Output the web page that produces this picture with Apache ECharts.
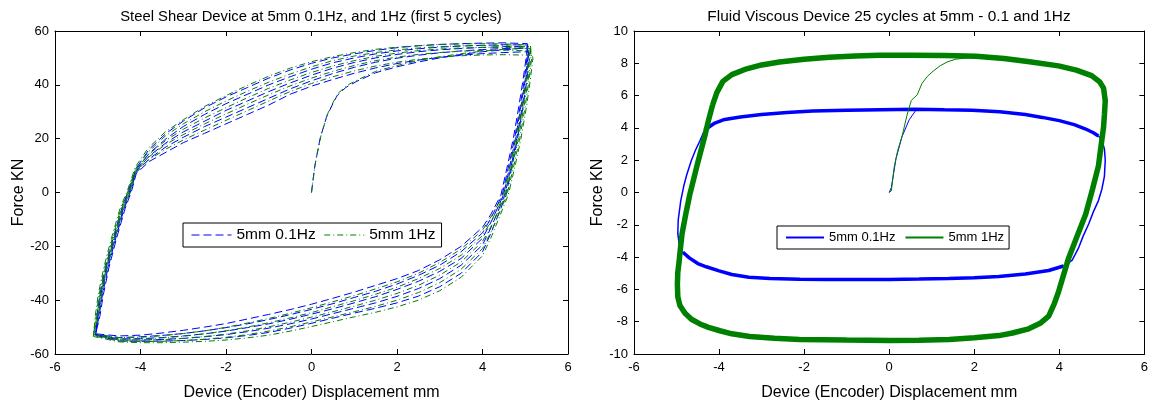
<!DOCTYPE html>
<html>
<head>
<meta charset="utf-8">
<script src="https://cdn.jsdelivr.net/npm/echarts@6/dist/echarts.min.js"></script>
<style>
html,body{margin:0;padding:0;background:#fff;}
#chart{width:1151px;height:406px;}
</style>
</head>
<body>
<div id="chart"></div>
<script>
// ---------------- Texts / ticks ----------------
const leftTitle = 'Steel Shear Device at 5mm 0.1Hz, and 1Hz (first 5 cycles)';
const rightTitle = 'Fluid Viscous Device 25 cycles at 5mm - 0.1 and 1Hz';
const xName = 'Device (Encoder) Displacement mm';
const yName = 'Force KN';
const legendNames = ['5mm 0.1Hz', '5mm 1Hz'];
const xTicks = [-6, -4, -2, 0, 2, 4, 6];
const steelYTicks = [-60, -40, -20, 0, 20, 40, 60];
const fluidYTicks = [-10, -8, -6, -4, -2, 0, 2, 4, 6, 8, 10];

// ---------------- Steel shear device (left) ----------------
const steelSlowInitial = [[0,0],[0.03,4],[0.08,10],[0.2,20],[0.35,28],[0.5,33],[0.6,36],[0.8,39],[1.06,41.3],[1.5,44.5],[2,46.7],[2.5,48.5],[3,50],[3.5,51.3],[4,52.3],[4.5,53],[5.05,53.8]];
const steelFastInitial = [[0,0],[0.04,5],[0.1,12],[0.22,21],[0.37,29],[0.52,34],[0.63,37],[0.85,40],[1.1,42],[1.5,45],[2,47.2],[2.5,49],[3,50.4],[3.5,51.6],[4,52.5],[4.5,53.2],[5.1,53.6]];

const steelTopX = [-4.1,-3.8,-3.4,-3,-2.5,-2,-1.5,-1,-0.5,0,0.5,1,1.5,2,2.5,3,3.5,4,4.5,5.05];
const steelFastTopX = [-4.12,-3.82,-3.42,-3,-2.5,-2,-1.5,-1,-0.5,0,0.5,1,1.5,2,2.5,3,3.5,4,4.5,5.12];
const steelSlowTop = [
  [9,16,22,26.5,31.5,35.5,39,42.5,45.5,48,50,51.5,52.8,53.8,54.5,55,55.3,55.5,55.6,55.3],
  [8.5,14.5,20,24.5,29,33,36.5,40,43,45.8,48.2,50,51.5,52.6,53.4,54,54.4,54.7,54.9,54.8],
  [8,13.5,18.5,22.5,26.5,30.5,34,37.5,40.7,43.6,46.2,48.3,50,51.3,52.3,53,53.5,53.9,54.2,54.3],
  [7.5,12.5,17,20.5,24.5,28,31.5,35,38.5,41.5,44.2,46.5,48.4,49.9,51,51.9,52.6,53.1,53.5,53.7],
  [7,11.5,15,18.5,22,25.5,29,32.5,36.5,39.5,42,44.3,46.3,47.9,49.2,50.2,51,51.6,52,52.3]
];
const steelFastTop = [
  [9.5,16.5,22.5,27,32,36,39.8,43.2,46.2,48.6,50.5,52,53.2,54,54.6,55,55.2,55.3,55.2,54.8],
  [8.8,15,21,25.5,30,34,37.6,41,44,46.7,49,50.7,52,53,53.7,54.2,54.5,54.6,54.5,54.2],
  [8.2,14,19.2,23.5,27.7,31.5,35.2,38.7,41.8,44.6,47,49,50.6,51.8,52.7,53.3,53.7,53.9,53.9,53.6],
  [7.7,13,17.8,21.5,25.5,29.2,32.8,36.3,39.6,42.5,45,47.2,49,50.3,51.3,52,52.5,52.8,52.9,52.6],
  [7.2,12,16,19.5,23.2,26.8,30.4,34,37.5,40.5,43,45.2,47,48.4,49.5,50.3,50.8,51.1,51.2,51]
];
const steelBotX = [4.2,4,3.5,3,2.5,2,1.5,1,0.5,0,-0.5,-1,-1.5,-2,-2.5,-3,-3.5,-4,-4.5,-5.05];
const steelFastBotX = [4.22,4,3.5,3,2.5,2,1.5,1,0.5,0,-0.5,-1,-1.5,-2,-2.5,-3,-3.5,-4,-4.5,-5.1];
const steelSlowBot = [
  [-15,-22,-30,-35,-38.5,-41,-43,-44.8,-46.7,-48.6,-50.4,-52,-53.1,-54,-54.6,-55,-55.2,-55.3,-55.2,-53],
  [-13,-19.5,-27,-32,-35.7,-38.6,-41,-43,-45,-47,-48.8,-50.4,-51.7,-52.8,-53.6,-54.2,-54.6,-54.8,-54.8,-52.9],
  [-11,-17,-24.5,-29.3,-33,-36,-38.7,-41,-43.2,-45.2,-47.1,-48.8,-50.2,-51.5,-52.5,-53.3,-53.9,-54.3,-54.4,-52.8],
  [-9.5,-15,-22,-27,-30.8,-34,-36.7,-39,-41.3,-43.4,-45.4,-47.2,-48.8,-50.2,-51.4,-52.4,-53.1,-53.6,-53.9,-52.7],
  [-8,-13,-20,-25,-29,-32,-34.5,-37,-39.3,-41.5,-43.5,-45.3,-47,-48.7,-50,-51.2,-52.2,-53,-53.3,-52.5]
];
const steelFastBot = [
  [-16,-23.5,-31.5,-36.5,-40,-42.5,-44.5,-46.2,-48,-49.8,-51.5,-53,-54,-54.8,-55.3,-55.6,-55.8,-55.8,-55.5,-53.5],
  [-14,-20.8,-28.5,-33.5,-37.2,-40,-42.3,-44.3,-46.2,-48.1,-49.9,-51.5,-52.8,-53.8,-54.5,-55,-55.3,-55.4,-55.2,-53.3],
  [-12,-18.2,-25.8,-30.7,-34.5,-37.5,-40,-42.2,-44.3,-46.3,-48.2,-49.9,-51.4,-52.6,-53.5,-54.2,-54.7,-54.9,-54.8,-53.1],
  [-10.2,-16,-23.3,-28.2,-32,-35.2,-37.8,-40.2,-42.4,-44.6,-46.6,-48.4,-50,-51.4,-52.5,-53.4,-54,-54.4,-54.4,-52.9],
  [-8.5,-14,-21,-26,-30,-33.2,-35.8,-38.3,-40.6,-42.8,-44.9,-46.8,-48.5,-50.1,-51.4,-52.4,-53.2,-53.8,-53.9,-52.7]
];
const steelRightEdgeY = [50,42,32,20,9,-1];
const steelSlowRightX = [
  [5.1,5.04,4.95,4.82,4.68,4.55],[5.08,5.02,4.93,4.8,4.66,4.52],[5.06,5.0,4.9,4.77,4.63,4.49],
  [5.04,4.98,4.88,4.75,4.6,4.46],[5.02,4.95,4.85,4.72,4.57,4.43]
];
const steelFastRightX = [
  [5.18,5.12,5.03,4.9,4.75,4.6],[5.15,5.09,5.0,4.87,4.72,4.57],[5.13,5.07,4.97,4.84,4.69,4.54],
  [5.1,5.04,4.94,4.81,4.66,4.51],[5.08,5.01,4.91,4.78,4.63,4.48]
];
const steelLeftEdgeY = [-46,-38,-28,-17,-6,1];
const steelSlowLeftX = [
  [-5.02,-4.95,-4.82,-4.64,-4.44,-4.28],[-5.0,-4.93,-4.8,-4.62,-4.42,-4.26],[-4.99,-4.91,-4.78,-4.6,-4.4,-4.24],
  [-4.97,-4.89,-4.76,-4.58,-4.38,-4.22],[-4.95,-4.87,-4.74,-4.56,-4.36,-4.2]
];
const steelFastLeftX = [
  [-5.06,-4.99,-4.86,-4.68,-4.48,-4.3],[-5.04,-4.97,-4.84,-4.66,-4.46,-4.28],[-5.02,-4.95,-4.82,-4.64,-4.44,-4.26],
  [-5.0,-4.93,-4.8,-4.62,-4.42,-4.24],[-4.98,-4.91,-4.78,-4.6,-4.4,-4.22]
];

// ---------------- Fluid viscous device (right) ----------------
const fluidSlowInitial = [[0,0],[0.05,0.3],[0.16,2.1],[0.3,3.45],[0.47,4.5],[0.63,5.1],[0.8,5.15]];
const fluidSlowTop = [[-4.34,3.87],[-4.1,4.3],[-3.9,4.5],[-3.5,4.68],[-3.0,4.83],[-2.4,4.95],[-1.8,5.05],[-1.0,5.1],[-0.2,5.13],[0.6,5.15],[1.3,5.12],[1.95,5.1],[2.6,5.0],[3.2,4.83],[3.6,4.65],[4.0,4.45],[4.35,4.2],[4.62,3.93],[4.8,3.7],[4.92,3.5]];
const fluidSlowRight = [[4.92,3.5],[5.0,3.25],[5.06,2.7],[5.08,2.0],[5.06,1.0],[5.0,0.2],[4.92,-0.5],[4.8,-1.2],[4.69,-1.95],[4.56,-2.7],[4.45,-3.45],[4.3,-4.2],[4.1,-4.55]];
const fluidSlowBottom = [[4.1,-4.55],[3.75,-4.83],[3.2,-5.05],[2.58,-5.2],[2.0,-5.28],[1.4,-5.32],[0.7,-5.36],[0,-5.38],[-0.8,-5.38],[-1.5,-5.38],[-2.1,-5.37],[-2.8,-5.33],[-3.3,-5.25],[-3.7,-5.08],[-4.0,-4.85],[-4.3,-4.6],[-4.5,-4.4],[-4.7,-4.05],[-4.85,-3.7]];
const fluidSlowLeft = [[-4.85,-3.7],[-4.93,-3.35],[-4.97,-2.55],[-4.96,-1.7],[-4.9,-0.5],[-4.83,0.4],[-4.76,1.1],[-4.65,2.0],[-4.55,2.65],[-4.45,3.2],[-4.34,3.87]];

const fluidFastInitial = [[0,0],[0.05,0.1],[0.12,1.6],[0.2,2.6],[0.3,3.45],[0.42,4.8],[0.52,5.7],[0.66,6.05],[0.77,6.75],[0.9,7.2],[1.05,7.55],[1.2,7.85],[1.36,8.08],[1.57,8.26],[1.9,8.35]];
const fluidFastLoop = [[-4.15,5.44],[-4.05,6.2],[-3.91,6.88],[-3.7,7.3],[-3.35,7.66],[-3.0,7.9],[-2.58,8.08],[-2.0,8.25],[-1.41,8.38],[-0.8,8.45],[-0.23,8.5],[0.5,8.5],[1.3,8.48],[2.04,8.44],[2.7,8.3],[3.3,8.1],[3.98,7.84],[4.4,7.58],[4.76,7.24],[4.95,6.85],[5.04,6.46],[5.08,5.68],[5.06,4.8],[5.04,4.05],[4.98,2.85],[4.92,1.65],[4.78,0.2],[4.62,-1.35],[4.42,-2.7],[4.22,-4.05],[4.1,-5.1],[3.98,-6.16],[3.88,-6.9],[3.75,-7.66],[3.55,-8.1],[3.28,-8.44],[2.9,-8.7],[2.58,-8.86],[2.0,-9.0],[1.41,-9.1],[0.7,-9.15],[0,-9.16],[-1.0,-9.14],[-2.11,-9.1],[-2.7,-9.02],[-3.28,-8.92],[-3.7,-8.75],[-3.98,-8.56],[-4.25,-8.35],[-4.45,-8.14],[-4.65,-7.85],[-4.8,-7.48],[-4.92,-7.0],[-4.97,-6.46],[-4.98,-5.7],[-4.97,-4.95],[-4.94,-4.3],[-4.92,-3.75],[-4.87,-2.55],[-4.78,-1.3],[-4.69,-0.15],[-4.6,0.8],[-4.52,1.65],[-4.43,2.55],[-4.34,3.45],[-4.25,4.45],[-4.15,5.44]];

// ---------------- Build paths ----------------
function buildSteel(initial, topX, tops, botX, bots, rightY, rightXs, leftY, leftXs) {
  const path = initial.slice();
  for (let i = 0; i < tops.length; i++) {
    rightY.forEach((y, j) => path.push([rightXs[i][j], y]));
    botX.forEach((x, j) => path.push([x, bots[i][j]]));
    leftY.forEach((y, j) => path.push([leftXs[i][j], y]));
    topX.forEach((x, j) => path.push([x, tops[i][j]]));
  }
  return path;
}
const steelSlowPath = buildSteel(steelSlowInitial, steelTopX, steelSlowTop, steelBotX, steelSlowBot, steelRightEdgeY, steelSlowRightX, steelLeftEdgeY, steelSlowLeftX);
const steelFastPath = buildSteel(steelFastInitial, steelFastTopX, steelFastTop, steelFastBotX, steelFastBot, steelRightEdgeY, steelFastRightX, steelLeftEdgeY, steelFastLeftX);

const BLUE = '#0000ff', GREEN = '#008000';
const FONT = "'Liberation Sans', Arial, Helvetica, sans-serif";

function xAxisPair(grid) {
  const base = {
    type: 'value', gridIndex: grid, min: -6, max: 6, interval: 2,
    splitLine: { show: false },
    axisLine: { onZero: false, lineStyle: { color: '#000', width: 1 } },
    axisTick: { inside: true, length: 5, lineStyle: { color: '#000' } }
  };
  return [
    Object.assign({}, base, {
      position: 'bottom',
      name: xName, nameLocation: 'middle', nameGap: 31,
      nameTextStyle: { fontFamily: FONT, fontSize: 16, color: '#000' },
      axisLabel: { fontFamily: FONT, fontSize: 13, color: '#000', margin: 7,
        formatter: v => xTicks.includes(v) ? String(v) : '' }
    }),
    Object.assign({}, base, { position: 'top', axisLabel: { show: false } })
  ];
}
function yAxisPair(grid, min, max, interval, ticks) {
  const base = {
    type: 'value', gridIndex: grid, min: min, max: max, interval: interval,
    splitLine: { show: false },
    axisLine: { onZero: false, lineStyle: { color: '#000', width: 1 } },
    axisTick: { inside: true, length: 5, lineStyle: { color: '#000' } }
  };
  return [
    Object.assign({}, base, {
      position: 'left',
      name: yName, nameLocation: 'middle', nameGap: 28, nameRotate: 90,
      nameTextStyle: { fontFamily: FONT, fontSize: 16, color: '#000' },
      axisLabel: { fontFamily: FONT, fontSize: 13, color: '#000', margin: 6,
        formatter: v => ticks.includes(v) ? String(v) : '' }
    }),
    Object.assign({}, base, { position: 'right', axisLabel: { show: false } })
  ];
}

function lineSeries(name, xi, yi, data, color, width, type, z) {
  return {
    type: 'line', name: name, xAxisIndex: xi, yAxisIndex: yi, data: data,
    showSymbol: false, symbol: 'none', animation: false, silent: true, z: z || 2,
    itemStyle: { color: color },
    lineStyle: { color: color, width: width, type: type || 'solid' }
  };
}

const chart = echarts.init(document.getElementById('chart'), null, { renderer: 'canvas' });
const legendLabel = { steelSlow: legendNames[0], steelFast: legendNames[1], fluidSlow: legendNames[0], fluidFast: legendNames[1] };

chart.setOption({
  backgroundColor: '#fff',
  animation: false,
  title: [
    { text: leftTitle, left: 311, top: 9, textAlign: 'center', padding: 0,
      textStyle: { fontFamily: FONT, fontSize: 14.8, fontWeight: 'normal', color: '#000' } },
    { text: rightTitle, left: 889, top: 9, textAlign: 'center', padding: 0,
      textStyle: { fontFamily: FONT, fontSize: 15.4, fontWeight: 'normal', color: '#000' } }
  ],
  grid: [
    { left: 55, top: 31, width: 513, height: 333 },
    { left: 634, top: 31, width: 512, height: 333 }
  ],
  xAxis: xAxisPair(0).concat(xAxisPair(1)),
  yAxis: yAxisPair(0, -60, 60, 20, steelYTicks).concat(yAxisPair(1, -10, 10, 2, fluidYTicks)),
  legend: [
    { data: ['steelSlow', 'steelFast'], left: 183, top: 223, orient: 'horizontal',
      padding: [4, 6, 4, 8], itemGap: 8, itemWidth: 40, itemHeight: 12,
      itemStyle: { opacity: 0 }, lineStyle: { width: 1 },
      backgroundColor: '#fff', borderColor: '#000', borderWidth: 1, borderRadius: 0,
      selectedMode: false, formatter: n => legendLabel[n],
      textStyle: { fontFamily: FONT, fontSize: 15.5, color: '#000' } },
    { data: ['fluidSlow', 'fluidFast'], left: 777, top: 226, orient: 'horizontal',
      padding: [5, 5, 5, 8], itemGap: 9, itemWidth: 38, itemHeight: 12,
      itemStyle: { opacity: 0 },
      backgroundColor: '#fff', borderColor: '#000', borderWidth: 1, borderRadius: 0,
      selectedMode: false, formatter: n => legendLabel[n],
      textStyle: { fontFamily: FONT, fontSize: 13, color: '#000' } }
  ],
  series: [
    lineSeries('steelSlow', 0, 0, steelSlowPath, BLUE, 1, [8, 4]),
    lineSeries('steelFast', 0, 0, steelFastPath, GREEN, 1, [6, 3, 1, 3], 3),
    lineSeries('fluidSlow', 2, 2, fluidSlowInitial, BLUE, 1),
    lineSeries('fluidSlow', 2, 2, fluidSlowTop, BLUE, 3.5),
    lineSeries('fluidSlow', 2, 2, fluidSlowRight, BLUE, 1.5),
    lineSeries('fluidSlow', 2, 2, fluidSlowBottom, BLUE, 3.5),
    lineSeries('fluidSlow', 2, 2, fluidSlowLeft, BLUE, 1.5),
    lineSeries('fluidFast', 2, 2, fluidFastInitial, GREEN, 1, 'solid', 3),
    lineSeries('fluidFast', 2, 2, fluidFastLoop, GREEN, 5.5, 'solid', 3)
  ]
});
</script>
</body>
</html>
